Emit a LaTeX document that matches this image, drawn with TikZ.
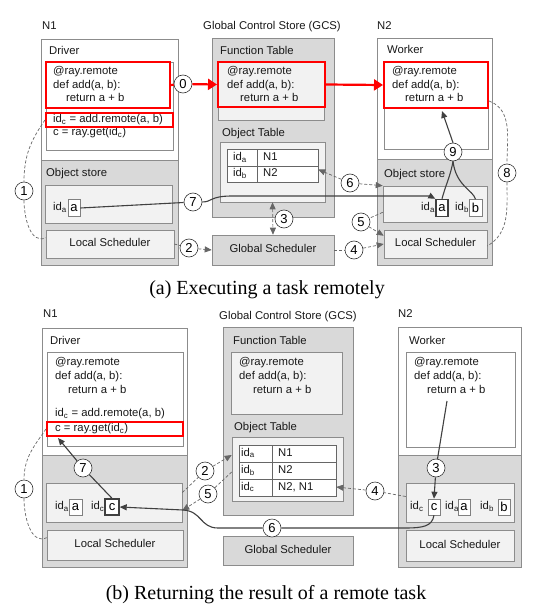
\documentclass[tikz,border=0pt]{standalone}
\usepackage{fontspec}
\setmainfont{Liberation Sans}
\newfontfamily\capfont{Liberation Serif}
\usetikzlibrary{arrows.meta,fit,calc}
\newcommand\fsz{\fontsize{11.3}{13.5}\selectfont}
\newcommand\fszb{\fontsize{13}{15}\selectfont}
\begin{document}
\begin{tikzpicture}[x=1pt,y=-1pt,
  bord/.style={draw=black!45, line width=0.6pt, inner sep=0pt},
  graybox/.style={bord, fill=black!15},
  whitebox/.style={bord, fill=white},
  lightbox/.style={bord, fill=black!5},
  redbox/.style={draw=red, line width=2pt, inner sep=0pt},
  txt/.style={anchor=west, inner sep=0pt, text height=8pt, text depth=2.5pt, font=\fsz, text=black!90},
  ctxt/.style={inner sep=0pt, text height=8pt, text depth=2.5pt, font=\fsz, text=black!90},
  num/.style={circle, draw=black!80, fill=white, line width=0.6pt, minimum size=18pt, inner sep=0pt, font=\fszb},
  vbox/.style={draw=black!50, fill=white, line width=0.6pt, inner sep=0pt, minimum width=12pt, minimum height=17pt, font=\fszb},
  vboxb/.style={vbox, draw=black!75, line width=1.4pt},
  dsh/.style={draw=black!60, line width=0.7pt, dash pattern=on 3pt off 2pt},
  sol/.style={draw=black!75, line width=1.1pt},
  tip/.style={-{Triangle[length=7pt,width=6pt]}},
  tips/.style={{Triangle[length=7pt,width=6pt]}-{Triangle[length=7pt,width=6pt]}},
  redarr/.style={draw=red, line width=2.2pt},
  redtip/.style={-{Triangle[length=9pt,width=11pt]}},
  captxt/.style={font=\capfont\fontsize{20}{22}\selectfont, inner sep=0pt}
]
\useasboundingbox (0,0) rectangle (538,615);
\fill[white] (0,0) rectangle (538,615);

%%%%%%%%%%%%%%%% (a) %%%%%%%%%%%%%%%%
% N1
\node[txt] (lblN1a) at (42,27) {N1};
\node[graybox, fit={(41,39)(178,265)}] (N1a) {};
\node[whitebox, fit={(41,39)(178,160)}] (N1aTop) {};
\node[txt] at (49,52) {Driver};
\node[whitebox, fit={(46,62)(173,150)}] (drvA) {};
\node[txt] at (53,72) {@ray.remote};
\node[txt] at (53,86) {def add(a, b):};
\node[txt] at (66,99) {return a + b};
\node[txt] at (53,120) {id\textsubscript{c} = add.remote(a, b)};
\node[txt] at (53,133) {c = ray.get(id\textsubscript{c})};
\node[redbox, fit={(46,62)(170,108)}] (rA1) {};
\node[redbox, fit={(46,113)(173,127)}] (rA2) {};
\node[txt] at (46,174) {Object store};
\node[lightbox, fit={(45,185)(172,223)}] (osA1) {};
\node[txt] at (53,208) {id\textsubscript{a}};
\node[vbox] (aA1) at (74,208) {a};
\node[lightbox, fit={(46,230)(174,258)}] (lsA1) {};
\node[ctxt] at (lsA1) {Local Scheduler};

% GCS
\node[ctxt] at (272,27) {Global Control Store (GCS)};
\node[graybox, fit={(212,38)(334,217)}] (gcsA) {};
\node[txt] at (220,52) {Function Table};
\node[lightbox, fit={(218,62)(324,120)}] (ftA) {};
\node[txt] at (227,72) {@ray.remote};
\node[txt] at (227,86) {def add(a, b):};
\node[txt] at (240,99) {return a + b};
\node[redbox, fit={(218,62)(325,107)}] (ftred) {};
\node[txt] at (222,134) {Object Table};
\node[lightbox, fit={(220,142)(325,202)}] (otA) {};
\node[whitebox, draw=black!60, fit={(227,149)(318,182)}] (tA) {};
\draw[black!60, line width=0.6pt] (257,149) -- (257,182) (227,166) -- (318,166);
\node[txt] at (233,158) {id\textsubscript{a}};
\node[txt] at (263,158) {N1};
\node[txt] at (233,174) {id\textsubscript{b}};
\node[txt] at (263,174) {N2};
\node[graybox, fit={(212,235)(334,265)}] (gsA) {};
\node[ctxt] at (gsA) {Global Scheduler};

% N2
\node[txt] at (377,27) {N2};
\node[graybox, fit={(377,38)(492,265)}] (N2a) {};
\node[whitebox, fit={(377,38)(492,159)}] (N2aTop) {};
\node[txt] at (387,51) {Worker};
\node[whitebox, fit={(384,62)(488,149)}] (wkA) {};
\node[txt] at (392,72) {@ray.remote};
\node[txt] at (392,86) {def add(a, b):};
\node[txt] at (405,99) {return a + b};
\node[redbox, fit={(384,62)(488,108)}] (wred) {};
\node[txt] at (384,175) {Object store};
\node[lightbox, fit={(383,186)(487,222)}] (osA2) {};
\node[txt] at (421,208) {id\textsubscript{a}};
\node[vboxb] (aA2) at (442,208) {a};
\node[txt] at (455,208) {id\textsubscript{b}};
\node[vbox, minimum width=13pt] (bA2) at (475.5,208) {b};
\node[lightbox, fit={(384,230)(487,258)}] (lsA2) {};
\node[ctxt] at (lsA2) {Local Scheduler};

% circles (a)
\node[num] (c0a) at (183,84) {0};
\node[num] (c1a) at (24,191) {1};
\node[num] (c2a) at (189,248) {2};
\node[num] (c3a) at (284,219) {3};
\node[num] (c4a) at (354,250) {4};
\node[num] (c5a) at (361,222) {5};
\node[num] (c6a) at (350,183) {6};
\node[num] (c7a) at (193,202) {7};
\node[num] (c8a) at (507,173) {8};
\node[num] (c9a) at (453,152) {9};

% connectors (a)
\draw[redarr] (rA1.east) -- (c0a);
\draw[redarr, redtip] (c0a) -- (ftred.west);
\draw[redarr, redtip] (ftred.east) -- (wred.west);
\draw[dsh] (rA2.west) to[out=235,in=90] (c1a.north);
\draw[dsh] (c1a.south) to[out=-90,in=205] ($(lsA1.north west)+(0,8)$);
\draw[dsh] (lsA1.east) -- (c2a);
\draw[dsh, tip] (c2a) -- (gsA.west);
\draw[dsh, tips] (otA.south) -- (gsA.north);
\draw[dsh] (gsA.east) -- (c4a);
\draw[dsh, tip] (c4a) -- (lsA2.west);
\draw[dsh] ($(osA2.south west)+(0,-10)$) -- (c5a);
\draw[dsh, tip] (c5a) -- ($(lsA2.north west)+(0,6)$);
\draw[dsh, {Triangle[length=7pt,width=6pt]}-] ($(tA.east)+(0,4)$) -- (c6a);
\draw[dsh, tip] (c6a) -- (osA2.north west);
\draw[sol] (aA1.east) -- (c7a);
\draw[sol, tip] (c7a.east) .. controls (212,202) and (210,196) .. (232,196) -- (424,196) .. controls (430,196) .. (aA2.north west);
\draw[dsh] ($(wred.south east)+(0,-8)$) to[out=-20,in=90] (c8a.north);
\draw[dsh] (c8a.south) to[out=-90,in=30] ($(lsA2.east)+(0,2)$);
\draw[sol] (aA2.north) to[out=75,in=-100] (c9a.south);
\draw[sol] (bA2.north) .. controls (473,190) and (456,186) .. (c9a.south);
\draw[sol, tip] (c9a.north) -- ($(wred.south)+(6,2)$);

\node[captxt] (capA) at (267,290) {(a) Executing a task remotely};

%%%%%%%%%%%%%%%% (b) %%%%%%%%%%%%%%%%
% N1
\node[txt] at (43,315) {N1};
\node[graybox, fit={(42,328)(187,567)}] (N1b) {};
\node[whitebox, fit={(42,328)(187,455)}] (N1bTop) {};
\node[txt] at (50,342) {Driver};
\node[whitebox, fit={(47,352)(183,446)}] (drvB) {};
\node[txt] at (55,363) {@ray.remote};
\node[txt] at (55,377) {def add(a, b):};
\node[txt] at (68,391) {return a + b};
\node[txt] at (55,414) {id\textsubscript{c} = add.remote(a, b)};
\node[txt] at (55,429) {c = ray.get(id\textsubscript{c})};
\node[redbox, fit={(47,422)(183,436)}] (rB) {};
\node[lightbox, fit={(46,483)(182,522)}] (osB1) {};
\node[txt] at (55,507) {id\textsubscript{a}};
\node[vbox, minimum width=13pt, minimum height=16pt] (aB1) at (75.5,507) {a};
\node[txt] at (91,507) {id\textsubscript{c}};
\node[vboxb, minimum width=14pt, minimum height=16pt] (cB1) at (112,507) {c};
\node[lightbox, fit={(47,530)(183,560)}] (lsB1) {};
\node[ctxt] at (lsB1) {Local Scheduler};

% GCS
\node[ctxt] at (288,317) {Global Control Store (GCS)};
\node[graybox, fit={(223,327)(353,515)}] (gcsB) {};
\node[txt] at (233,342) {Function Table};
\node[lightbox, fit={(231,352)(342,414)}] (ftB) {};
\node[txt] at (239,363) {@ray.remote};
\node[txt] at (239,377) {def add(a, b):};
\node[txt] at (253,391) {return a + b};
\node[txt] at (234,428) {Object Table};
\node[lightbox, fit={(232,437)(343,501)}] (otB) {};
\node[whitebox, draw=black!60, fit={(239,445)(336,496)}] (tB) {};
\draw[black!60, line width=0.6pt] (272,445) -- (272,496) (239,462) -- (336,462) (239,479) -- (336,479);
\node[txt] at (241,453.5) {id\textsubscript{a}};
\node[txt] at (278,453.5) {N1};
\node[txt] at (241,470.5) {id\textsubscript{b}};
\node[txt] at (278,470.5) {N2};
\node[txt] at (241,487.5) {id\textsubscript{c}};
\node[txt] at (278,487.5) {N2, N1};
\node[graybox, fit={(223,536)(353,565)}] (gsB) {};
\node[ctxt] at (gsB) {Global Scheduler};

% N2
\node[txt] at (398,315) {N2};
\node[graybox, fit={(398,327)(521,567)}] (N2b) {};
\node[whitebox, fit={(398,327)(521,455)}] (N2bTop) {};
\node[txt] at (409,342) {Worker};
\node[whitebox, fit={(406,352)(515,447)}] (wkB) {};
\node[txt] at (414,363) {@ray.remote};
\node[txt] at (414,377) {def add(a, b):};
\node[txt] at (427,391) {return a + b};
\coordinate (retB) at (447,401);
\node[lightbox, fit={(406,483)(514,522)}] (osB2) {};
\node[txt] at (410,507) {id\textsubscript{c}};
\node[vbox, minimum height=16pt] (cB2) at (434,507) {c};
\node[txt] at (445,507) {id\textsubscript{a}};
\node[vbox, minimum height=16pt] (aB2) at (464,507) {a};
\node[txt] at (480,507) {id\textsubscript{b}};
\node[vbox, minimum height=16pt] (bB2) at (504,507) {b};
\node[lightbox, fit={(406,530)(514,561)}] (lsB2) {};
\node[ctxt] at (lsB2) {Local Scheduler};

% circles (b)
\node[num] (c1b) at (24,489) {1};
\node[num] (c2b) at (205,471) {2};
\node[num] (c3b) at (436,468) {3};
\node[num] (c4b) at (375,491) {4};
\node[num] (c5b) at (208,494) {5};
\node[num] (c6b) at (272,528) {6};
\node[num] (c7b) at (83,468) {7};

% connectors (b)
\draw[dsh] (rB.west) to[out=235,in=90] (c1b.north);
\draw[dsh] (c1b.south) to[out=-90,in=205] ($(lsB1.north west)+(0,8)$);
\draw[sol] (cB1.north) -- (c7b);
\draw[sol, tip] (c7b) -- ($(rB.south west)+(12,1)$);
\draw[dsh] ($(osB1.east)+(0,-10)$) -- (c2b);
\draw[dsh, tip] (c2b) -- ($(otB.west)+(0,-14)$);
\draw[dsh] ($(otB.west)+(0,3)$) -- (c5b);
\draw[dsh, tip] (c5b) -- ($(osB1.east)+(0,8)$);
\draw[dsh] ($(osB2.west)+(0,-6)$) -- (c4b);
\draw[dsh, tip] (c4b) -- ($(tB.east)+(0,16.5)$);
\draw[sol] (retB) -- (c3b);
\draw[sol, tip] (c3b) -- (cB2.north);
\draw[sol] (cB2.south) .. controls (432,526) and (424,528) .. (405,528) -- (c6b);
\draw[sol, tip] (c6b) -- (218,528) .. controls (200,528) and (202,511) .. (183,510) -- (cB1.east);

\node[captxt] (capB) at (266,595) {(b) Returning the result of a remote task};
\end{tikzpicture}
\end{document}
